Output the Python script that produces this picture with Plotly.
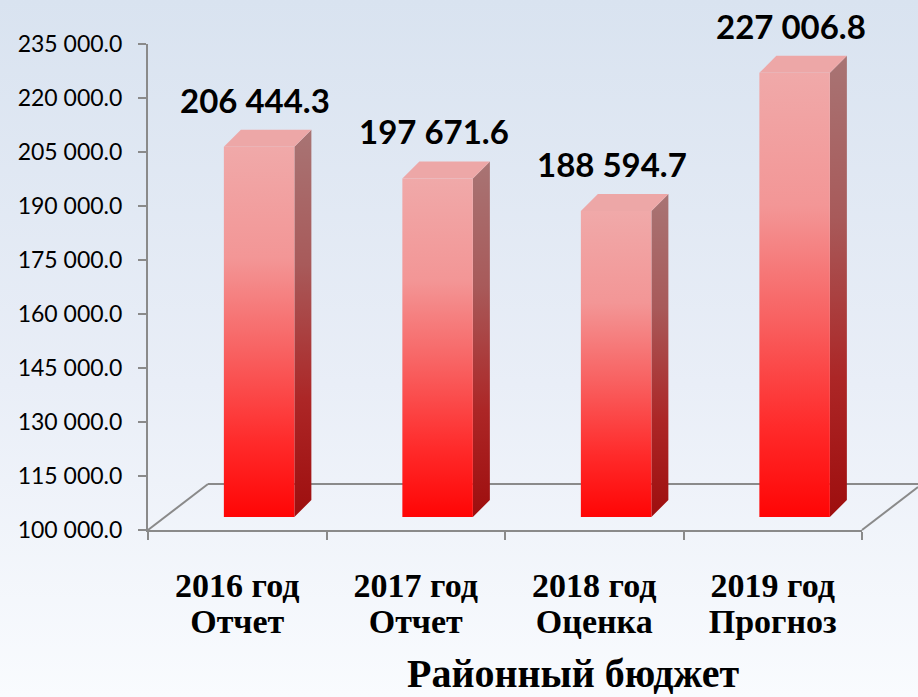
import base64
import plotly.graph_objects as go

# ---------------- data ----------------
YEARS = ["2016 год", "2017 год", "2018 год", "2019 год"]
STATUS = ["Отчет", "Отчет", "Оценка", "Прогноз"]
VALUES = [206444.3, 197671.6, 188594.7, 227006.8]
Y_MIN, Y_MAX, Y_STEP = 100000, 235000, 15000
X_TITLE = "Районный бюджет"

# ---------------- style ----------------
W, H = 918, 697
ML, MR, MT, MB = 148, 56, 44, 167
PW, PH = W - ML - MR, H - MT - MB
N = len(VALUES)
UX = N / PW                      # x data units per pixel
UY = (Y_MAX - Y_MIN) / PH        # y data units per pixel
FRONT_L, FRONT_R = -0.075, 0.32  # front face extent relative to category centre
DEPTH_X, DEPTH_Y = 17 * UX, 17 * UY
LIFT = 13 * UY                   # bars stand on the middle of the 3-D floor
FLOOR_DX, FLOOR_DY = 60, 46      # floor depth in pixels
AXIS_GREY = "#8a8a8a"
SERIF = "Liberation Serif"

FRONT_SCALE = [[0, "#ff0505"], [0.2, "#ff2a2a"], [0.45, "#f86262"], [0.7, "#f39696"], [1, "#f0a9a9"]]
SIDE_SCALE = [[0, "#9e0e0e"], [0.3, "#ac2626"], [0.65, "#a85a5a"], [1, "#a87474"]]
TOP_COLOR = "#eda7a7"


def fmt(v):
    return f"{v:,.1f}".replace(",", " ")


fig = go.Figure()

for i, v in enumerate(VALUES):
    b = Y_MIN + LIFT
    xl, xr = i + FRONT_L, i + FRONT_R
    # side face
    fig.add_trace(go.Scatter(
        x=[xr, xr + DEPTH_X, xr + DEPTH_X, xr, xr],
        y=[b, b + DEPTH_Y, v + DEPTH_Y, v, b],
        mode="lines", fill="toself", line=dict(width=0, color="rgba(0,0,0,0)"),
        fillgradient=dict(type="vertical", colorscale=SIDE_SCALE, start=b, stop=v + DEPTH_Y),
        hoverinfo="skip", showlegend=False))
    # top cap
    fig.add_trace(go.Scatter(
        x=[xl, xr, xr + DEPTH_X, xl + DEPTH_X, xl],
        y=[v, v, v + DEPTH_Y, v + DEPTH_Y, v],
        mode="lines", fill="toself", fillcolor=TOP_COLOR,
        line=dict(width=0, color="rgba(0,0,0,0)"),
        hoverinfo="skip", showlegend=False))
    # front face (on the overlaying category axis carrying the second label line)
    fig.add_trace(go.Scatter(
        x=[xl, xr, xr, xl, xl],
        y=[b, b, v, v, b],
        xaxis="x2", yaxis="y",
        mode="lines", fill="toself", line=dict(width=0, color="rgba(0,0,0,0)"),
        fillgradient=dict(type="vertical", colorscale=FRONT_SCALE, start=b, stop=v),
        name=f"{YEARS[i]} {STATUS[i]}", hovertemplate=fmt(v) + "<extra></extra>",
        showlegend=False))
    fig.add_annotation(
        x=i + 0.1, y=v, yshift=47, text=fmt(v), showarrow=False,
        font=dict(family="Lato", size=33, color="black", weight="bold"),
        xanchor="center", yanchor="middle")

# axis title (placed right of centre as in the reference)
fig.add_annotation(
    xref="paper", yref="paper", x=(573 - ML) / PW, y=-(673 - (H - MB)) / PH,
    text=X_TITLE, showarrow=False, xanchor="center", yanchor="middle",
    font=dict(family=SERIF, size=40, color="black", weight="bold"))

# background gradient
svg = (f'<svg xmlns="http://www.w3.org/2000/svg" width="{W}" height="{H}" '
       f'viewBox="0 0 {W} {H}" preserveAspectRatio="none">'
       '<defs><linearGradient id="g" x1="0" y1="0" x2="0" y2="1">'
       '<stop offset="0" stop-color="#d9e3f0"/><stop offset="0.55" stop-color="#e9eef7"/>'
       '<stop offset="1" stop-color="#f9fbfe"/></linearGradient></defs>'
       f'<rect x="0" y="0" width="{W}" height="{H}" fill="url(#g)"/></svg>')
src = "data:image/svg+xml;base64," + base64.b64encode(svg.encode()).decode()

shape_line = dict(color=AXIS_GREY, width=2)
fx, fy = FLOOR_DX / PW, FLOOR_DY / PH
shapes = [
    dict(type="line", xref="paper", yref="paper", x0=0, y0=0, x1=fx, y1=fy, line=shape_line, layer="below"),
    dict(type="line", xref="paper", yref="paper", x0=fx, y0=fy, x1=1 + MR / PW, y1=fy, line=shape_line, layer="below"),
    dict(type="line", xref="paper", yref="paper", x0=1, y0=0, x1=1 + MR / PW, y1=fy * MR / FLOOR_DX, line=shape_line, layer="below"),
]

fig.update_layout(
    width=W, height=H,
    margin=dict(l=ML, r=MR, t=MT, b=MB, pad=0),
    paper_bgcolor="#eef2f8", plot_bgcolor="rgba(0,0,0,0)",
    separators=". ",
    images=[dict(source=src, xref="paper", yref="paper", x=-ML / PW, y=1 + MT / PH,
                 sizex=W / PW, sizey=H / PH, xanchor="left", yanchor="top",
                 sizing="stretch", layer="below")],
    shapes=shapes,
    xaxis=dict(range=[-0.5, N - 0.5], tickmode="array", tickvals=list(range(N)), ticktext=YEARS,
               showgrid=False, zeroline=False, showline=True, linecolor=AXIS_GREY, linewidth=2,
               ticks="", ticklabelstandoff=24, automargin=False,
               minor=dict(tickmode="array", tickvals=[k - 0.5 for k in range(N + 1)],
                          ticks="outside", ticklen=8, tickwidth=2, tickcolor=AXIS_GREY),
               tickfont=dict(family=SERIF, size=34, color="black", weight="bold"),
               fixedrange=True),
    xaxis2=dict(overlaying="x", anchor="y", side="bottom", range=[-0.5, N - 0.5],
                tickmode="array", tickvals=list(range(N)), ticktext=STATUS,
                showgrid=False, zeroline=False, showline=False, ticks="",
                ticklabelstandoff=68, automargin=False,
                tickfont=dict(family=SERIF, size=34, color="black", weight="bold"),
                fixedrange=True),
    yaxis=dict(range=[Y_MIN, Y_MAX], tick0=Y_MIN, dtick=Y_STEP, tickformat=",.1f",
               showgrid=False, zeroline=False, showline=True, linecolor=AXIS_GREY, linewidth=2,
               ticks="outside", ticklen=8, tickwidth=2, tickcolor=AXIS_GREY, ticklabelstandoff=11,
               tickfont=dict(family="Lato", size=23, color="black"), fixedrange=True,
               automargin=False),
    showlegend=False,
)

fig.write_html("out.html", config={"displayModeBar": False},
               post_script="document.body.style.margin='0';")
